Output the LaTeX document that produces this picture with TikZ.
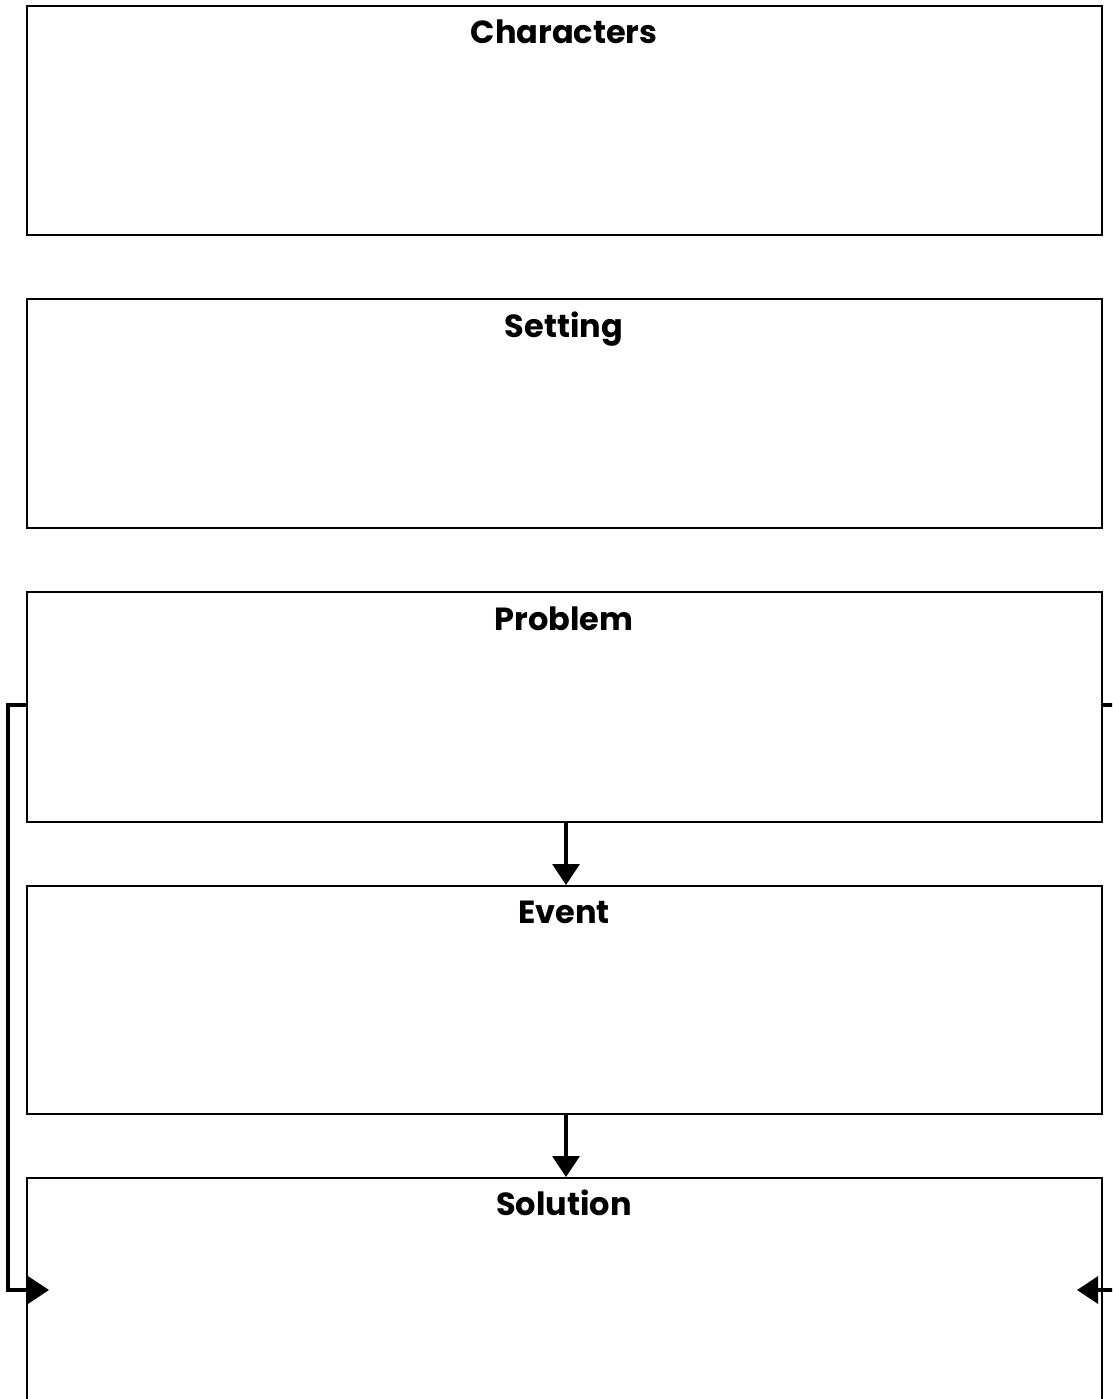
\documentclass[tikz,border=0pt]{standalone}
\usepackage{fontspec}
\setmainfont{Poppins}
\usetikzlibrary{arrows.meta}
\begin{document}
\begin{tikzpicture}[x=1pt,y=-1pt,
  panel/.style={draw=black,line width=2pt,fill=white},
  ttl/.style={anchor=base,font=\bfseries\fontsize{32}{36}\selectfont,inner sep=0pt},
  conn/.style={draw=black,line width=3.2pt,-{Triangle[length=21pt,width=27pt]}},
  wire/.style={draw=black,line width=3.2pt}]
\path[use as bounding box,clip] (0,0) rectangle (1112,1399);
\fill[white] (0,0) rectangle (1112,1399);
\node[panel,minimum width=1075pt,minimum height=229pt,anchor=north west,inner sep=0pt] (char) at (26,5) {};
\node[panel,minimum width=1075pt,minimum height=229pt,anchor=north west,inner sep=0pt] (sett) at (26,298) {};
\node[panel,minimum width=1075pt,minimum height=230pt,anchor=north west,inner sep=0pt] (prob) at (26,591) {};
\node[panel,minimum width=1075pt,minimum height=228pt,anchor=north west,inner sep=0pt] (evt) at (26,885) {};
\node[panel,minimum width=1075pt,minimum height=240pt,anchor=north west,inner sep=0pt] (sol) at (26,1177) {};
\node[ttl] (tchar) at (564,44) {Characters};
\node[ttl] (tsett) at (564,337) {Setting};
\node[ttl] (tprob) at (564,630) {Problem};
\node[ttl] (tevt) at (564,923) {Event};
\node[ttl] (tsol) at (564,1215) {Solution};
\coordinate (lt) at (8,705);
\coordinate (lb) at (8,1290);
\coordinate (la) at (49,1290);
\coordinate (rt) at (1125,705);
\coordinate (rb) at (1125,1290);
\coordinate (ra) at (1077,1290);
\draw[conn] (prob.south -| 566,0) -- (evt.north -| 566,0);
\draw[conn] (evt.south -| 566,0) -- (sol.north -| 566,0);
\draw[conn] (prob.west |- lt) -- (lt) -- (lb) -- (la);
\draw[conn] (prob.east |- rt) -- (rt) -- (rb) -- (ra);
\end{tikzpicture}
\end{document}
